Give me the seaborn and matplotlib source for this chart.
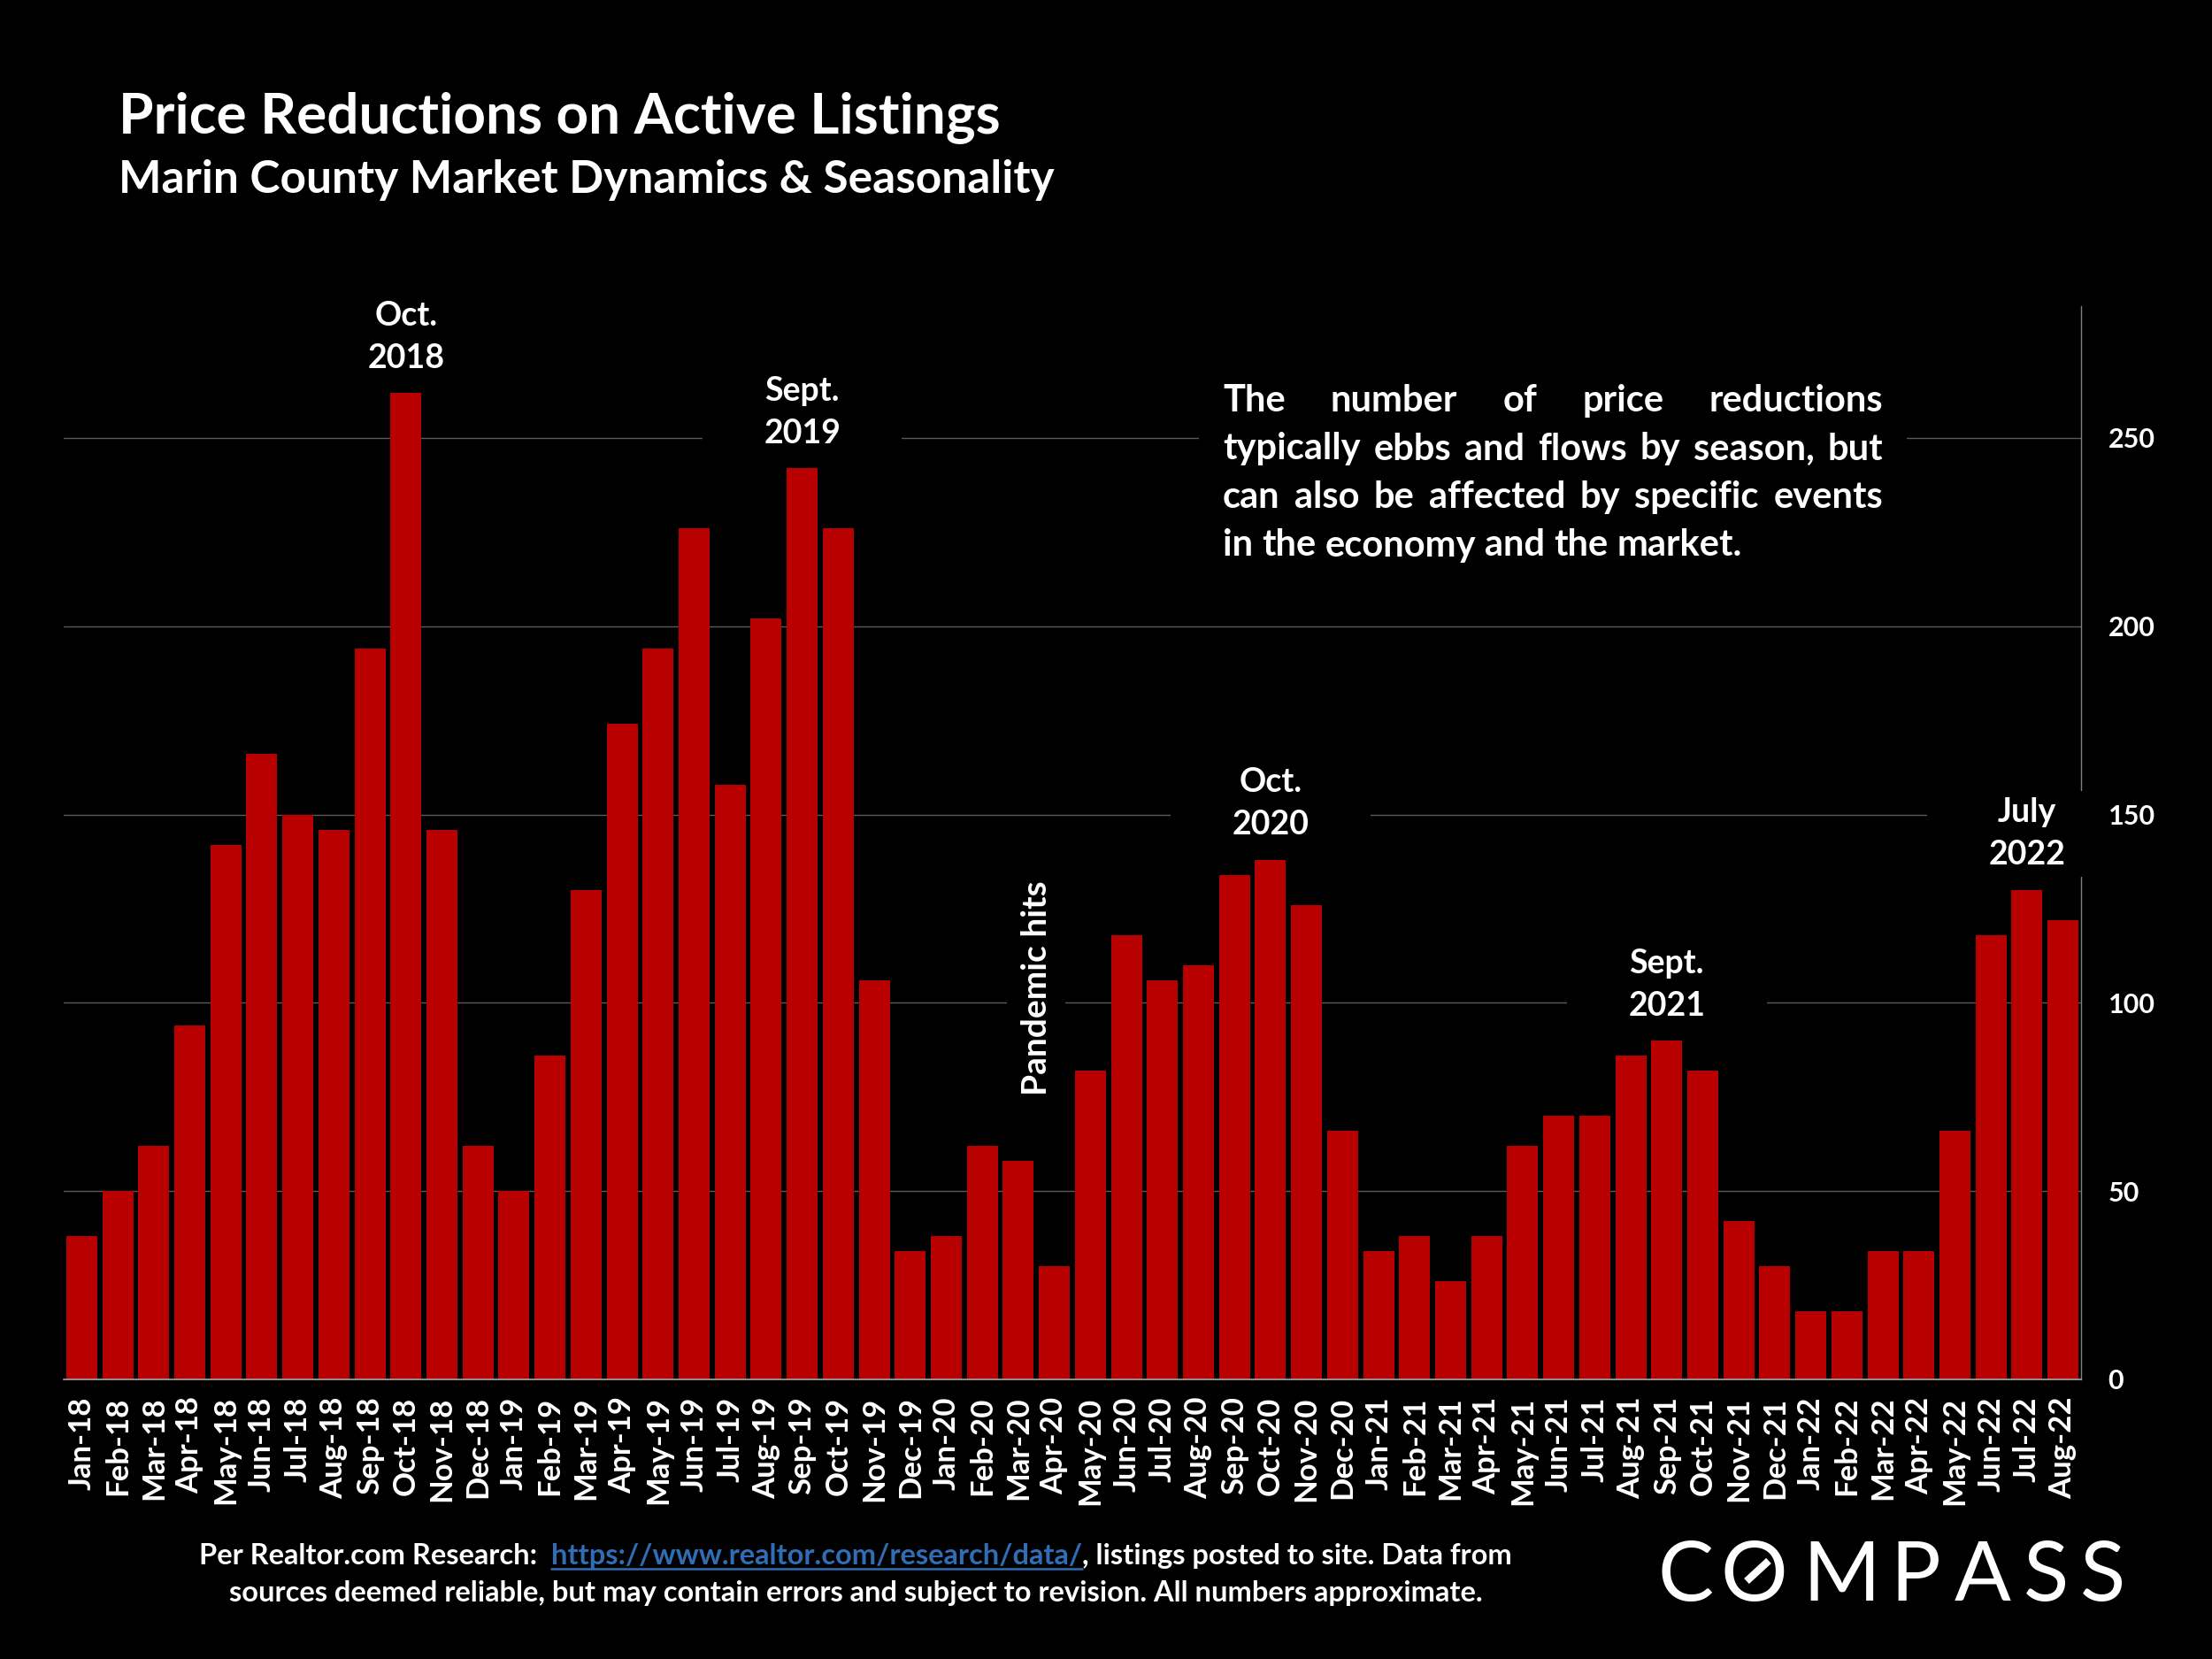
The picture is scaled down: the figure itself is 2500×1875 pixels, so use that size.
import matplotlib
matplotlib.use("Agg")
import matplotlib.pyplot as plt
import numpy as np
import pandas as pd
import seaborn as sns
from matplotlib.lines import Line2D
from matplotlib.patches import Rectangle
from matplotlib.path import Path
from matplotlib.transforms import IdentityTransform

# ---------------------------------------------------------------------------
# Data
# ---------------------------------------------------------------------------
months = [
    "Jan-18", "Feb-18", "Mar-18", "Apr-18", "May-18", "Jun-18", "Jul-18", "Aug-18",
    "Sep-18", "Oct-18", "Nov-18", "Dec-18",
    "Jan-19", "Feb-19", "Mar-19", "Apr-19", "May-19", "Jun-19", "Jul-19", "Aug-19",
    "Sep-19", "Oct-19", "Nov-19", "Dec-19",
    "Jan-20", "Feb-20", "Mar-20", "Apr-20", "May-20", "Jun-20", "Jul-20", "Aug-20",
    "Sep-20", "Oct-20", "Nov-20", "Dec-20",
    "Jan-21", "Feb-21", "Mar-21", "Apr-21", "May-21", "Jun-21", "Jul-21", "Aug-21",
    "Sep-21", "Oct-21", "Nov-21", "Dec-21",
    "Jan-22", "Feb-22", "Mar-22", "Apr-22", "May-22", "Jun-22", "Jul-22", "Aug-22",
]
reductions = [
    38, 50, 62, 94, 142, 166, 150, 146, 194, 262, 146, 62,
    50, 86, 130, 174, 194, 226, 158, 202, 242, 226, 106, 34,
    38, 62, 58, 30, 82, 118, 106, 110, 134, 138, 126, 66,
    34, 38, 26, 38, 62, 70, 70, 86, 90, 82, 42, 30,
    18, 18, 34, 34, 66, 118, 130, 122,
]

peak_months = ["Oct-18", "Sep-19", "Oct-20", "Sep-21", "Jul-22"]
peak_labels = ["Oct.\n2018", "Sept.\n2019", "Oct.\n2020", "Sept.\n2021", "July\n2022"]
event_month = "Apr-20"
event_label = "Pandemic hits"

y_ticks = [0, 50, 100, 150, 200, 250]

title = "Price Reductions on Active Listings"
subtitle = "Marin County Market Dynamics & Seasonality"
description = [
    "The number of price reductions",
    "typically ebbs and flows by season, but",
    "can also be affected by specific events",
    "in the economy and the market.",
]
note_parts = ["Per Realtor.com Research:", "https://www.realtor.com/research/data/",
              ", listings posted to site. Data from"]
note_line2 = "sources deemed reliable, but may contain errors and subject to revision. All numbers approximate."
logo_letters = ["C", "O", "M", "P", "A", "S", "S"]

# ---------------------------------------------------------------------------
# Style
# ---------------------------------------------------------------------------
sns.set_theme(style="white")
plt.rcParams["font.family"] = ["Lato", "DejaVu Sans"]
BAR_RED = "#B80000"
GRID = "#5a5a5a"
AXIS = "#a6a6a6"
LINK = "#2f6db5"
W, H = 2500, 1875
PX = IdentityTransform()


def make_box(padl=1.85, padr=1.85, pady=0.2):
    """Flat black box like the slide's text boxes (pads in font sizes)."""
    def box(x0, y0, width, height, mutation_size):
        l, r = x0 - padl * mutation_size, x0 + width + padr * mutation_size
        b, t = y0 - pady * mutation_size, y0 + height + pady * mutation_size
        return Path([(l, b), (r, b), (r, t), (l, t), (l, b)], closed=True)
    return box


fig = plt.figure(figsize=(25, 18.75), dpi=100, facecolor="black")
ax = fig.add_axes([72 / W, 1 - 1559 / H, (2352 - 72) / W, (1559 - 346) / H])
ax.set_facecolor("black")

df = pd.DataFrame({"month": months, "count": reductions})
sns.barplot(data=df, x="month", y="count", color=BAR_RED, saturation=1,
            width=0.86, linewidth=0, ax=ax, zorder=2)

ax.set_xlim(-0.5, len(months) - 0.5)
ax.set_ylim(0, 285)
ax.set_xlabel("")
ax.set_ylabel("")

# axes, ticks, grid
ax.yaxis.tick_right()
ax.set_yticks(y_ticks)
ax.yaxis.grid(True, color=GRID, lw=1.0)
ax.set_axisbelow(True)
ax.tick_params(axis="y", length=0, pad=22, labelsize=22, labelcolor="white")
ax.set_xticks(np.arange(-0.5, len(months), 1), minor=True)
ax.tick_params(axis="x", which="major", length=0, pad=14, labelsize=25,
               labelcolor="white", rotation=90)
ax.tick_params(axis="x", which="minor", length=7, width=1.0, color=AXIS)
for lab in ax.get_xticklabels() + ax.get_yticklabels():
    lab.set_fontweight("bold")
for side in ["left", "top"]:
    ax.spines[side].set_visible(False)
ax.spines["bottom"].set_color(AXIS)
ax.spines["bottom"].set_linewidth(1.2)
ax.spines["right"].set_color("#7f7f7f")
ax.spines["right"].set_linewidth(1.0)

# peak annotations
for m, lab in zip(peak_months, peak_labels):
    i = months.index(m)
    box = make_box(padr=0.9) if m == months[-2] else make_box()
    ax.annotate(lab, xy=(i, reductions[i]), xytext=(0, 16), textcoords="offset points",
                ha="center", va="bottom", fontsize=27, fontweight="bold",
                color="white", linespacing=1.5, annotation_clip=False,
                bbox=dict(boxstyle=box, fc="black", ec="none"), zorder=4)

ei = months.index(event_month)
ax.text(ei - 0.5, 104, event_label, rotation=90, ha="center", va="center",
        fontsize=28, fontweight="bold", color="white", zorder=4,
        bbox=dict(boxstyle="square,pad=0.4", fc="black", ec="none"))

# ---------------------------------------------------------------------------
# Text laid out in output pixels
# ---------------------------------------------------------------------------
renderer = fig.canvas.get_renderer()


def width_of(t):
    return t.get_window_extent(renderer).width


def space_width(**kw):
    a = fig.text(0, 0, "a a", **kw)
    b = fig.text(0, 0, "aa", **kw)
    s = width_of(a) - width_of(b)
    a.remove()
    b.remove()
    return s


fig.text(134, H - 150, title, transform=PX, fontsize=46, fontweight="bold",
         color="white", va="baseline")
fig.text(134, H - 218, subtitle, transform=PX, fontsize=37, fontweight="bold",
         color="white", va="baseline")

# justified description
desc_kw = dict(transform=PX, fontsize=30, fontweight="bold", color="white",
               va="baseline", zorder=5)
fig.add_artist(Rectangle((1355, H - 640), 800, 225, transform=PX, fc="black",
                         ec="none", zorder=1))
x0, x1 = 1382, 2128
space = space_width(**desc_kw)
for k, line in enumerate(description):
    y = H - 465 - k * 54.5
    words = line.split()
    arts = [fig.text(0, y, w, **desc_kw) for w in words]
    widths = [width_of(a) for a in arts]
    if k == len(description) - 1:
        gap = space
    else:
        gap = (x1 - x0 - sum(widths)) / (len(words) - 1)
    x = x0
    for a, w in zip(arts, widths):
        a.set_x(x)
        x += w + gap

# source note
note_kw = dict(transform=PX, fontsize=23.5, fontweight="bold", va="baseline")
y1 = H - 1768
pieces = [fig.text(0, y1, s, color=c, **note_kw)
          for s, c in zip(note_parts, ["white", LINK, "white"])]
pw = [width_of(p) for p in pieces]
nspace = space_width(**note_kw)
gaps = [2 * nspace, 0, 0]
x = 967 - (sum(pw) + sum(gaps)) / 2
for p, w, g in zip(pieces, pw, gaps):
    p.set_x(x)
    if p.get_color() == LINK:
        fig.add_artist(Line2D([x, x + w], [y1 - 5, y1 - 5], transform=PX,
                              color=LINK, lw=1.8))
    x += w + g
fig.text(967, H - 1810, note_line2, ha="center", color="white", **note_kw)

# COMPASS logo
logo_x = [1905, 1982, 2081, 2165, 2241, 2313, 2376]
for ch, lx in zip(logo_letters, logo_x):
    fig.text(lx, 66, ch, transform=PX, ha="center", va="baseline", fontsize=68,
             fontweight="normal", color="white")
ox, oy = logo_x[1], 100
fig.add_artist(Line2D([ox - 8, ox + 17], [oy - 12, oy + 11], transform=PX,
                      color="white", lw=6.0, solid_capstyle="butt"))

fig.savefig("out.png", dpi=100, facecolor="black")
